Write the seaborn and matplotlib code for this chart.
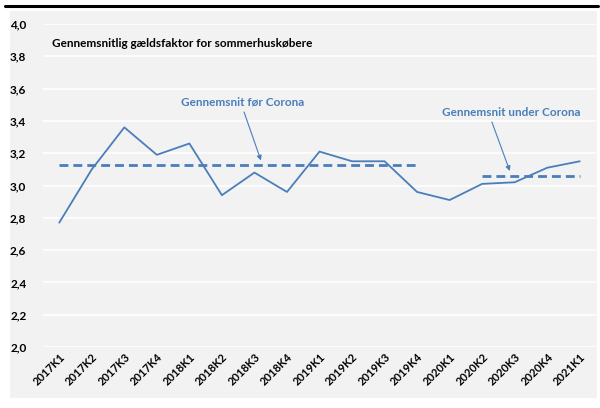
import matplotlib
matplotlib.use("Agg")
import matplotlib.pyplot as plt
import seaborn as sns
import pandas as pd
from matplotlib.lines import Line2D

quarters = ["2017K1", "2017K2", "2017K3", "2017K4", "2018K1", "2018K2", "2018K3", "2018K4",
            "2019K1", "2019K2", "2019K3", "2019K4", "2020K1", "2020K2", "2020K3", "2020K4", "2021K1"]
gaeldsfaktor = [2.77, 3.10, 3.36, 3.19, 3.26, 2.94, 3.08, 2.96,
                3.21, 3.15, 3.15, 2.96, 2.91, 3.01, 3.02, 3.11, 3.15]
avg_before = 3.13
avg_before_range = ("2017K1", "2019K4")
avg_during = 3.06
avg_during_range = ("2020K2", "2021K1")
yticks = [2.0, 2.2, 2.4, 2.6, 2.8, 3.0, 3.2, 3.4, 3.6, 3.8, 4.0]
title = "Gennemsnitlig gældsfaktor for sommerhuskøbere"
label_before = "Gennemsnit før Corona"
label_during = "Gennemsnit under Corona"

sns.set_theme(style="white")
plt.rcParams['font.family'] = ['Lato', 'DejaVu Sans']
plt.rcParams['text.color'] = 'black'
plt.rcParams['xtick.color'] = 'black'
plt.rcParams['ytick.color'] = 'black'

blue = "#4A7EBB"
df = pd.DataFrame({"kvartal": quarters, "vaerdi": gaeldsfaktor})
df["pos"] = range(len(quarters))

fig = plt.figure(figsize=(6.0, 4.08), dpi=100)
bg = fig.add_axes([10/600, 10/408, 587/600, 387/408], zorder=-5)
bg.set_facecolor("#F2F2F2")
bg.set_xticks([]); bg.set_yticks([])
for s in bg.spines.values():
    s.set_visible(False)
fig.lines.append(Line2D([5/600, 598/600], [1 - 5.5/408, 1 - 5.5/408], transform=fig.transFigure,
                        color="black", linewidth=2.2))

ax = fig.add_axes([43/600, 61/408, 553/600, 323/408], zorder=1)
ax.set_facecolor("none")

sns.lineplot(data=df, x="pos", y="vaerdi", ax=ax, color=blue, linewidth=1.3, zorder=3)

b0, b1 = quarters.index(avg_before_range[0]), quarters.index(avg_before_range[1])
d0, d1 = quarters.index(avg_during_range[0]), quarters.index(avg_during_range[1])
sns.lineplot(x=[b0, b1], y=[avg_before, avg_before], ax=ax, color=blue, linewidth=2.0,
             linestyle=(0, (3.2, 1.8)), zorder=3)
sns.lineplot(x=[d0, d1], y=[avg_during, avg_during], ax=ax, color=blue, linewidth=2.0,
             linestyle=(0, (3.2, 1.8)), zorder=3)

ax.set_xlim(-0.5, len(quarters) - 0.5)
ax.set_ylim(2.0, 4.0)
ax.set_yticks(yticks)
ax.set_yticklabels([f"{v:.1f}".replace(".", ",") for v in yticks], fontsize=8.5,
                   fontweight="bold", color="black")
ax.set_xticks(range(len(quarters)))
ax.set_xticklabels(quarters, rotation=45, ha="right", rotation_mode="anchor",
                   fontsize=8, fontweight="bold", color="black")
ax.tick_params(axis="both", length=0)
ax.tick_params(axis="y", pad=12)
ax.tick_params(axis="x", pad=3)
ax.grid(axis="y", color="white", linewidth=1.2, zorder=1)
ax.set_axisbelow(True)
for s in ax.spines.values():
    s.set_visible(False)
ax.set_xlabel("")
ax.set_ylabel("")

ax.text(0.016, 0.94, title, transform=ax.transAxes, fontsize=8.5, fontweight="bold",
        color="black", va="center", ha="left")

ax.text(5.65, 3.52, label_before, fontsize=8.5, fontweight="bold", color=blue,
        ha="center", va="center")
ax.annotate("", xy=(6.20, 3.155), xytext=(5.68, 3.455),
            arrowprops=dict(arrowstyle="-|>", color=blue, lw=0.8, mutation_scale=7,
                            shrinkA=0, shrinkB=0))
ax.text(13.88, 3.455, label_during, fontsize=8.5, fontweight="bold", color=blue,
        ha="center", va="center")
ax.annotate("", xy=(13.85, 3.09), xytext=(13.30, 3.393),
            arrowprops=dict(arrowstyle="-|>", color=blue, lw=0.8, mutation_scale=7,
                            shrinkA=0, shrinkB=0))

fig.savefig("out.png", dpi=100)
